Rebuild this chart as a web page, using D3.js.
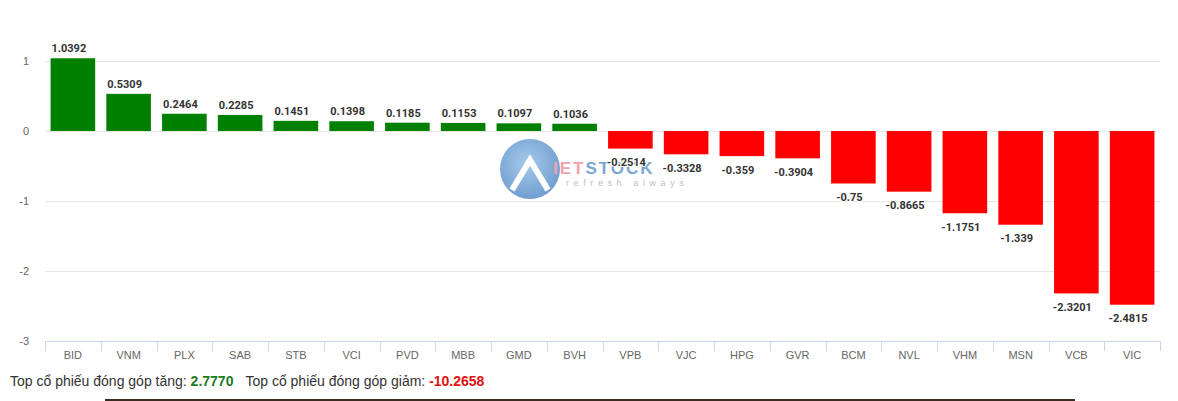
<!DOCTYPE html>
<html><head><meta charset="utf-8">
<script src="https://cdn.jsdelivr.net/npm/d3@7"></script>
<style>
body{margin:0;background:#fff;font-family:"Liberation Sans",Arial,sans-serif;}
svg{display:block}
</style></head>
<body>
<svg id="c" width="1178" height="401"></svg>
<script>
const categories = ["BID","VNM","PLX","SAB","STB","VCI","PVD","MBB","GMD","BVH","VPB","VJC","HPG","GVR","BCM","NVL","VHM","MSN","VCB","VIC"];
const values = [1.0392,0.5309,0.2464,0.2285,0.1451,0.1398,0.1185,0.1153,0.1097,0.1036,-0.2514,-0.3328,-0.359,-0.3904,-0.75,-0.8665,-1.1751,-1.339,-2.3201,-2.4815];
const yTicks = [1,0,-1,-2,-3];
const totalUp = "2.7770";
const totalDown = "-10.2658";

const svg = d3.select("#c");
const left = 45, right = 1160;
const x = d3.scaleBand().domain(categories).range([left,right]).paddingInner(0.2).paddingOuter(0.1);
const y = d3.scaleLinear().domain([-3,1.5]).range([341,26]);

// gridlines
svg.append("g").selectAll("line").data(yTicks.filter(t=>t>-3)).join("line")
  .attr("x1",left).attr("x2",right).attr("y1",d=>y(d)).attr("y2",d=>y(d))
  .attr("stroke","#e6e6e6").attr("stroke-width",1).attr("shape-rendering","crispEdges");

// y labels
svg.append("g").selectAll("text").data(yTicks).join("text")
  .attr("x",29).attr("y",d=>y(d)+4).attr("text-anchor","end")
  .attr("font-size","11px").attr("fill","#666").text(d=>d);

// watermark
const defs = svg.append("defs");
const grad = defs.append("radialGradient").attr("id","wg").attr("cx","45%").attr("cy","40%").attr("r","60%");
grad.append("stop").attr("offset","0%").attr("stop-color","#8fbde6");
grad.append("stop").attr("offset","100%").attr("stop-color","#4f86c6");
const wm = svg.append("g").attr("opacity",0.8);
wm.append("circle").attr("cx",530).attr("cy",169).attr("r",30).attr("fill","url(#wg)");
wm.append("path").attr("d","M512,190 L530,160 L548,190").attr("fill","none").attr("stroke","#fff").attr("stroke-width",6);
const wt = wm.append("text").attr("x",553).attr("y",174).attr("font-size","17px").attr("font-weight","bold").attr("letter-spacing","2px");
wt.append("tspan").attr("fill","#ee8c98").text("IET");
wt.append("tspan").attr("fill","#5a90c8").text("STOCK");
wm.append("text").attr("x",566).attr("y",186).attr("font-size","9px").attr("letter-spacing","4.6px")
  .attr("fill","#b0b0b0").text("refresh always");

// bars
svg.append("g").selectAll("rect").data(values).join("rect")
  .attr("x",(d,i)=>x(categories[i])).attr("width",x.bandwidth())
  .attr("y",d=>d>=0?y(d):y(0)).attr("height",d=>Math.abs(y(d)-y(0)))
  .attr("fill",d=>d>=0?"#008000":"#ff0000");

// data labels
svg.append("g").selectAll("text").data(values).join("text")
  .attr("x",(d,i)=>x(categories[i])+x.bandwidth()/2-4)
  .attr("y",d=>d>=0?y(d)-6:y(d)+17.5)
  .attr("text-anchor","middle").attr("font-size","11px").attr("font-weight","bold")
  .attr("font-family","Roboto, 'Liberation Sans', sans-serif")
  .attr("fill","#333").attr("stroke","#fff").attr("stroke-width",2).attr("paint-order","stroke")
  .text(d=>d);

// x axis
const xa = svg.append("g");
xa.append("line").attr("x1",left).attr("x2",right).attr("y1",341.5).attr("y2",341.5).attr("stroke","#ccd6eb");
const bounds = d3.range(categories.length+1).map(i=>left+i*(right-left)/categories.length);
xa.selectAll("line.t").data(bounds).join("line").attr("class","t")
  .attr("x1",d=>Math.round(d)+0.5).attr("x2",d=>Math.round(d)+0.5).attr("y1",341).attr("y2",351).attr("stroke","#ccd6eb");
xa.selectAll("text").data(categories).join("text")
  .attr("x",d=>x(d)+x.bandwidth()/2).attr("y",359).attr("text-anchor","middle")
  .attr("font-size","11px").attr("fill","#666").text(d=>d);

// footer
const ft = svg.append("text").attr("x",10).attr("y",386).attr("font-size","14px").attr("fill","#333");
ft.append("tspan").text("Top cổ phiếu đóng góp tăng: ");
ft.append("tspan").attr("font-weight","bold").attr("fill","#1e7b1e").text(totalUp);
ft.append("tspan").attr("dx",12).text("Top cổ phiếu đóng góp giảm: ");
ft.append("tspan").attr("font-weight","bold").attr("fill","#e01010").text(totalDown);

svg.append("rect").attr("x",105).attr("y",399).attr("width",970).attr("height",2).attr("fill","#3a2a22");
</script>
</body></html>
